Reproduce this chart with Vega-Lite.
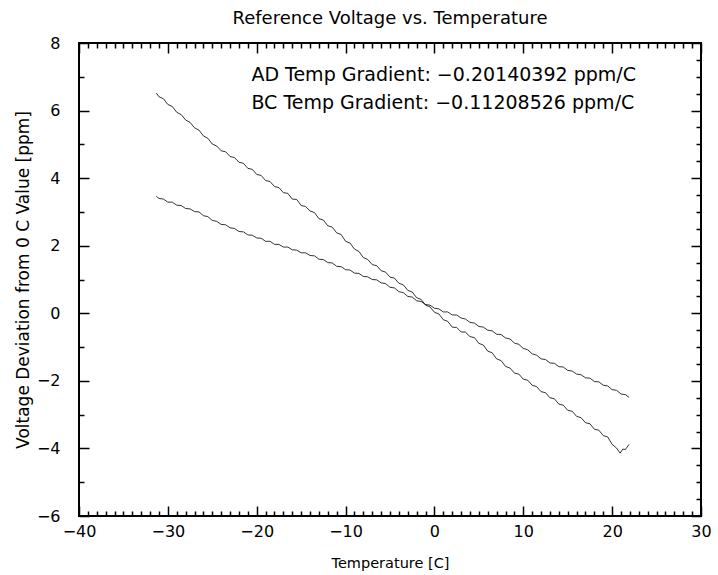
{
  "$schema": "https://vega.github.io/schema/vega-lite/v6.json",
  "width": 622,
  "height": 473,
  "autosize": {"type": "none"},
  "padding": {"left": 79, "top": 43, "right": 17, "bottom": 59},
  "background": "white",
  "title": {"text": "Reference Voltage vs. Temperature", "font": "DejaVu Sans", "fontSize": 18, "fontWeight": "normal", "color": "black", "offset": 7},
  "config": {"view": {"stroke": "black", "strokeWidth": 2}},
  "datasets": {
    "pts": [
      {"s":"AD","t":-31.3,"v":6.52},{"s":"AD","t":-31.0,"v":6.41},{"s":"AD","t":-30.5,"v":6.35},{"s":"AD","t":-30.0,"v":6.18},{"s":"AD","t":-29.5,"v":6.12},{"s":"AD","t":-29.0,"v":5.95},{"s":"AD","t":-28.5,"v":5.88},{"s":"AD","t":-28.0,"v":5.72},{"s":"AD","t":-27.5,"v":5.65},{"s":"AD","t":-27.0,"v":5.49},{"s":"AD","t":-26.5,"v":5.42},{"s":"AD","t":-26.0,"v":5.25},{"s":"AD","t":-25.5,"v":5.18},{"s":"AD","t":-25.0,"v":5.01},{"s":"AD","t":-24.5,"v":4.95},{"s":"AD","t":-24.0,"v":4.81},{"s":"AD","t":-23.5,"v":4.78},{"s":"AD","t":-23.0,"v":4.64},{"s":"AD","t":-22.5,"v":4.61},{"s":"AD","t":-22.0,"v":4.47},{"s":"AD","t":-21.5,"v":4.44},{"s":"AD","t":-21.0,"v":4.29},{"s":"AD","t":-20.5,"v":4.26},{"s":"AD","t":-20.0,"v":4.11},{"s":"AD","t":-19.5,"v":4.08},{"s":"AD","t":-19.0,"v":3.93},{"s":"AD","t":-18.5,"v":3.90},{"s":"AD","t":-18.0,"v":3.75},{"s":"AD","t":-17.5,"v":3.72},{"s":"AD","t":-17.0,"v":3.57},{"s":"AD","t":-16.5,"v":3.55},{"s":"AD","t":-16.0,"v":3.38},{"s":"AD","t":-15.5,"v":3.37},{"s":"AD","t":-15.0,"v":3.19},{"s":"AD","t":-14.5,"v":3.16},{"s":"AD","t":-14.0,"v":3.03},{"s":"AD","t":-13.5,"v":2.98},{"s":"AD","t":-13.0,"v":2.80},{"s":"AD","t":-12.5,"v":2.76},{"s":"AD","t":-12.0,"v":2.59},{"s":"AD","t":-11.5,"v":2.55},{"s":"AD","t":-11.0,"v":2.38},{"s":"AD","t":-10.5,"v":2.33},{"s":"AD","t":-10.0,"v":2.13},{"s":"AD","t":-9.5,"v":2.08},{"s":"AD","t":-9.0,"v":1.90},{"s":"AD","t":-8.5,"v":1.83},{"s":"AD","t":-8.0,"v":1.65},{"s":"AD","t":-7.5,"v":1.59},{"s":"AD","t":-7.0,"v":1.44},{"s":"AD","t":-6.5,"v":1.41},{"s":"AD","t":-6.0,"v":1.26},{"s":"AD","t":-5.5,"v":1.22},{"s":"AD","t":-5.0,"v":1.07},{"s":"AD","t":-4.5,"v":1.04},{"s":"AD","t":-4.0,"v":0.89},{"s":"AD","t":-3.5,"v":0.84},{"s":"AD","t":-3.0,"v":0.68},{"s":"AD","t":-2.5,"v":0.63},{"s":"AD","t":-2.0,"v":0.46},{"s":"AD","t":-1.5,"v":0.41},{"s":"AD","t":-1.0,"v":0.24},{"s":"AD","t":-0.5,"v":0.19},{"s":"AD","t":0.0,"v":0.03},{"s":"AD","t":0.5,"v":-0.02},{"s":"AD","t":1.0,"v":-0.19},{"s":"AD","t":1.5,"v":-0.24},{"s":"AD","t":2.0,"v":-0.41},{"s":"AD","t":2.5,"v":-0.42},{"s":"AD","t":3.0,"v":-0.55},{"s":"AD","t":3.5,"v":-0.56},{"s":"AD","t":4.0,"v":-0.69},{"s":"AD","t":4.5,"v":-0.72},{"s":"AD","t":5.0,"v":-0.89},{"s":"AD","t":5.5,"v":-0.94},{"s":"AD","t":6.0,"v":-1.12},{"s":"AD","t":6.5,"v":-1.17},{"s":"AD","t":7.0,"v":-1.35},{"s":"AD","t":7.5,"v":-1.40},{"s":"AD","t":8.0,"v":-1.57},{"s":"AD","t":8.5,"v":-1.62},{"s":"AD","t":9.0,"v":-1.77},{"s":"AD","t":9.5,"v":-1.80},{"s":"AD","t":10.0,"v":-1.95},{"s":"AD","t":10.5,"v":-1.98},{"s":"AD","t":11.0,"v":-2.13},{"s":"AD","t":11.5,"v":-2.17},{"s":"AD","t":12.0,"v":-2.32},{"s":"AD","t":12.5,"v":-2.35},{"s":"AD","t":13.0,"v":-2.50},{"s":"AD","t":13.5,"v":-2.53},{"s":"AD","t":14.0,"v":-2.69},{"s":"AD","t":14.5,"v":-2.72},{"s":"AD","t":15.0,"v":-2.87},{"s":"AD","t":15.5,"v":-2.90},{"s":"AD","t":16.0,"v":-3.05},{"s":"AD","t":16.5,"v":-3.09},{"s":"AD","t":17.0,"v":-3.24},{"s":"AD","t":17.5,"v":-3.27},{"s":"AD","t":18.0,"v":-3.43},{"s":"AD","t":18.5,"v":-3.46},{"s":"AD","t":19.0,"v":-3.62},{"s":"AD","t":19.5,"v":-3.66},{"s":"AD","t":20.0,"v":-3.88},{"s":"AD","t":20.5,"v":-3.99},{"s":"AD","t":20.9,"v":-4.14},{"s":"AD","t":21.2,"v":-4.02},{"s":"AD","t":21.5,"v":-4.03},{"s":"AD","t":21.9,"v":-3.88},
      {"s":"BC","t":-31.3,"v":3.46},{"s":"BC","t":-31.0,"v":3.40},{"s":"BC","t":-30.5,"v":3.38},{"s":"BC","t":-30.0,"v":3.29},{"s":"BC","t":-29.5,"v":3.29},{"s":"BC","t":-29.0,"v":3.20},{"s":"BC","t":-28.5,"v":3.19},{"s":"BC","t":-28.0,"v":3.10},{"s":"BC","t":-27.5,"v":3.09},{"s":"BC","t":-27.0,"v":3.01},{"s":"BC","t":-26.5,"v":3.00},{"s":"BC","t":-26.0,"v":2.89},{"s":"BC","t":-25.5,"v":2.86},{"s":"BC","t":-25.0,"v":2.75},{"s":"BC","t":-24.5,"v":2.72},{"s":"BC","t":-24.0,"v":2.63},{"s":"BC","t":-23.5,"v":2.62},{"s":"BC","t":-23.0,"v":2.53},{"s":"BC","t":-22.5,"v":2.51},{"s":"BC","t":-22.0,"v":2.42},{"s":"BC","t":-21.5,"v":2.41},{"s":"BC","t":-21.0,"v":2.32},{"s":"BC","t":-20.5,"v":2.31},{"s":"BC","t":-20.0,"v":2.23},{"s":"BC","t":-19.5,"v":2.22},{"s":"BC","t":-19.0,"v":2.13},{"s":"BC","t":-18.5,"v":2.13},{"s":"BC","t":-18.0,"v":2.04},{"s":"BC","t":-17.5,"v":2.04},{"s":"BC","t":-17.0,"v":1.96},{"s":"BC","t":-16.5,"v":1.96},{"s":"BC","t":-16.0,"v":1.88},{"s":"BC","t":-15.5,"v":1.87},{"s":"BC","t":-15.0,"v":1.79},{"s":"BC","t":-14.5,"v":1.79},{"s":"BC","t":-14.0,"v":1.71},{"s":"BC","t":-13.5,"v":1.70},{"s":"BC","t":-13.0,"v":1.60},{"s":"BC","t":-12.5,"v":1.59},{"s":"BC","t":-12.0,"v":1.50},{"s":"BC","t":-11.5,"v":1.49},{"s":"BC","t":-11.0,"v":1.39},{"s":"BC","t":-10.5,"v":1.38},{"s":"BC","t":-10.0,"v":1.29},{"s":"BC","t":-9.5,"v":1.28},{"s":"BC","t":-9.0,"v":1.19},{"s":"BC","t":-8.5,"v":1.18},{"s":"BC","t":-8.0,"v":1.09},{"s":"BC","t":-7.5,"v":1.08},{"s":"BC","t":-7.0,"v":1.00},{"s":"BC","t":-6.5,"v":0.99},{"s":"BC","t":-6.0,"v":0.90},{"s":"BC","t":-5.5,"v":0.88},{"s":"BC","t":-5.0,"v":0.77},{"s":"BC","t":-4.5,"v":0.75},{"s":"BC","t":-4.0,"v":0.64},{"s":"BC","t":-3.5,"v":0.61},{"s":"BC","t":-3.0,"v":0.50},{"s":"BC","t":-2.5,"v":0.48},{"s":"BC","t":-2.0,"v":0.37},{"s":"BC","t":-1.5,"v":0.35},{"s":"BC","t":-1.0,"v":0.26},{"s":"BC","t":-0.5,"v":0.24},{"s":"BC","t":0.0,"v":0.15},{"s":"BC","t":0.5,"v":0.13},{"s":"BC","t":1.0,"v":0.04},{"s":"BC","t":1.5,"v":0.04},{"s":"BC","t":2.0,"v":-0.05},{"s":"BC","t":2.5,"v":-0.05},{"s":"BC","t":3.0,"v":-0.14},{"s":"BC","t":3.5,"v":-0.17},{"s":"BC","t":4.0,"v":-0.27},{"s":"BC","t":4.5,"v":-0.29},{"s":"BC","t":5.0,"v":-0.39},{"s":"BC","t":5.5,"v":-0.41},{"s":"BC","t":6.0,"v":-0.50},{"s":"BC","t":6.5,"v":-0.52},{"s":"BC","t":7.0,"v":-0.62},{"s":"BC","t":7.5,"v":-0.63},{"s":"BC","t":8.0,"v":-0.73},{"s":"BC","t":8.5,"v":-0.76},{"s":"BC","t":9.0,"v":-0.88},{"s":"BC","t":9.5,"v":-0.92},{"s":"BC","t":10.0,"v":-1.04},{"s":"BC","t":10.5,"v":-1.08},{"s":"BC","t":11.0,"v":-1.20},{"s":"BC","t":11.5,"v":-1.24},{"s":"BC","t":12.0,"v":-1.35},{"s":"BC","t":12.5,"v":-1.37},{"s":"BC","t":13.0,"v":-1.47},{"s":"BC","t":13.5,"v":-1.48},{"s":"BC","t":14.0,"v":-1.58},{"s":"BC","t":14.5,"v":-1.59},{"s":"BC","t":15.0,"v":-1.69},{"s":"BC","t":15.5,"v":-1.71},{"s":"BC","t":16.0,"v":-1.80},{"s":"BC","t":16.5,"v":-1.82},{"s":"BC","t":17.0,"v":-1.91},{"s":"BC","t":17.5,"v":-1.92},{"s":"BC","t":18.0,"v":-2.02},{"s":"BC","t":18.5,"v":-2.03},{"s":"BC","t":19.0,"v":-2.13},{"s":"BC","t":19.5,"v":-2.15},{"s":"BC","t":20.0,"v":-2.26},{"s":"BC","t":20.5,"v":-2.28},{"s":"BC","t":21.0,"v":-2.39},{"s":"BC","t":21.5,"v":-2.41},{"s":"BC","t":21.9,"v":-2.49}
    ],
    "notes": [
      {"label": "AD Temp Gradient: −0.20140392 ppm/C", "t": -20.6, "v": 7.05},
      {"label": "BC Temp Gradient: −0.11208526 ppm/C", "t": -20.6, "v": 6.22}
    ]
  },
  "layer": [
    {
      "data": {"name": "pts"},
      "mark": {"type": "line", "color": "black", "strokeWidth": 0.8, "clip": true},
      "encoding": {
        "x": {"field": "t", "type": "quantitative",
          "scale": {"domain": [-40, 30], "nice": false, "zero": false},
          "axis": {"orient": "bottom", "domain": false, "grid": false,
            "values": [-40,-39,-38,-37,-36,-35,-34,-33,-32,-31,-30,-29,-28,-27,-26,-25,-24,-23,-22,-21,-20,-19,-18,-17,-16,-15,-14,-13,-12,-11,-10,-9,-8,-7,-6,-5,-4,-3,-2,-1,0,1,2,3,4,5,6,7,8,9,10,11,12,13,14,15,16,17,18,19,20,21,22,23,24,25,26,27,28,29,30],
            "format": "d",
            "labelExpr": "datum.value % 10 === 0 ? datum.label : ''",
            "labelOverlap": false, "labelFlush": false,
            "tickSize": {"condition": {"test": "datum.value % 10 === 0", "value": -10}, "value": -5},
            "tickColor": "black", "tickWidth": 1.5,
            "labelFont": "DejaVu Sans", "labelFontSize": 16, "labelColor": "black", "labelPadding": 17,
            "title": "Temperature [C]", "titleFont": "DejaVu Sans", "titleFontSize": 14.5, "titleFontWeight": "normal", "titleColor": "black", "titlePadding": 12}
        },
        "y": {"field": "v", "type": "quantitative",
          "scale": {"domain": [-6, 8], "nice": false, "zero": false},
          "axis": {"orient": "left", "domain": false, "grid": false,
            "values": [-6,-5.5,-5,-4.5,-4,-3.5,-3,-2.5,-2,-1.5,-1,-0.5,0,0.5,1,1.5,2,2.5,3,3.5,4,4.5,5,5.5,6,6.5,7,7.5,8],
            "format": "d",
            "labelExpr": "datum.value % 2 === 0 ? datum.label : ''",
            "labelOverlap": false, "labelFlush": false,
            "tickSize": {"condition": {"test": "datum.value % 2 === 0", "value": -10}, "value": -5},
            "tickColor": "black", "tickWidth": 1.5,
            "labelFont": "DejaVu Sans", "labelFontSize": 16, "labelColor": "black", "labelPadding": 29,
            "title": "Voltage Deviation from 0 C Value [ppm]", "titleFont": "DejaVu Sans", "titleFontSize": 17, "titleFontWeight": "normal", "titleColor": "black", "titlePadding": 4}
        },
        "detail": {"field": "s"}
      }
    },
    {
      "data": {"name": "notes"},
      "mark": {"type": "text", "align": "left", "baseline": "middle", "font": "DejaVu Sans", "fontSize": 19, "color": "black"},
      "encoding": {
        "x": {"field": "t", "type": "quantitative",
          "axis": {"orient": "top", "domain": false, "grid": false, "labels": false, "title": null,
            "values": [-40,-39,-38,-37,-36,-35,-34,-33,-32,-31,-30,-29,-28,-27,-26,-25,-24,-23,-22,-21,-20,-19,-18,-17,-16,-15,-14,-13,-12,-11,-10,-9,-8,-7,-6,-5,-4,-3,-2,-1,0,1,2,3,4,5,6,7,8,9,10,11,12,13,14,15,16,17,18,19,20,21,22,23,24,25,26,27,28,29,30],
            "tickSize": {"condition": {"test": "datum.value % 10 === 0", "value": -10}, "value": -5},
            "tickColor": "black", "tickWidth": 1.5}
        },
        "y": {"field": "v", "type": "quantitative",
          "axis": {"orient": "right", "domain": false, "grid": false, "labels": false, "title": null,
            "values": [-6,-5.5,-5,-4.5,-4,-3.5,-3,-2.5,-2,-1.5,-1,-0.5,0,0.5,1,1.5,2,2.5,3,3.5,4,4.5,5,5.5,6,6.5,7,7.5,8],
            "tickSize": {"condition": {"test": "datum.value % 2 === 0", "value": -10}, "value": -5},
            "tickColor": "black", "tickWidth": 1.5}
        },
        "text": {"field": "label"}
      }
    }
  ],
  "resolve": {"axis": {"x": "independent", "y": "independent"}}
}
